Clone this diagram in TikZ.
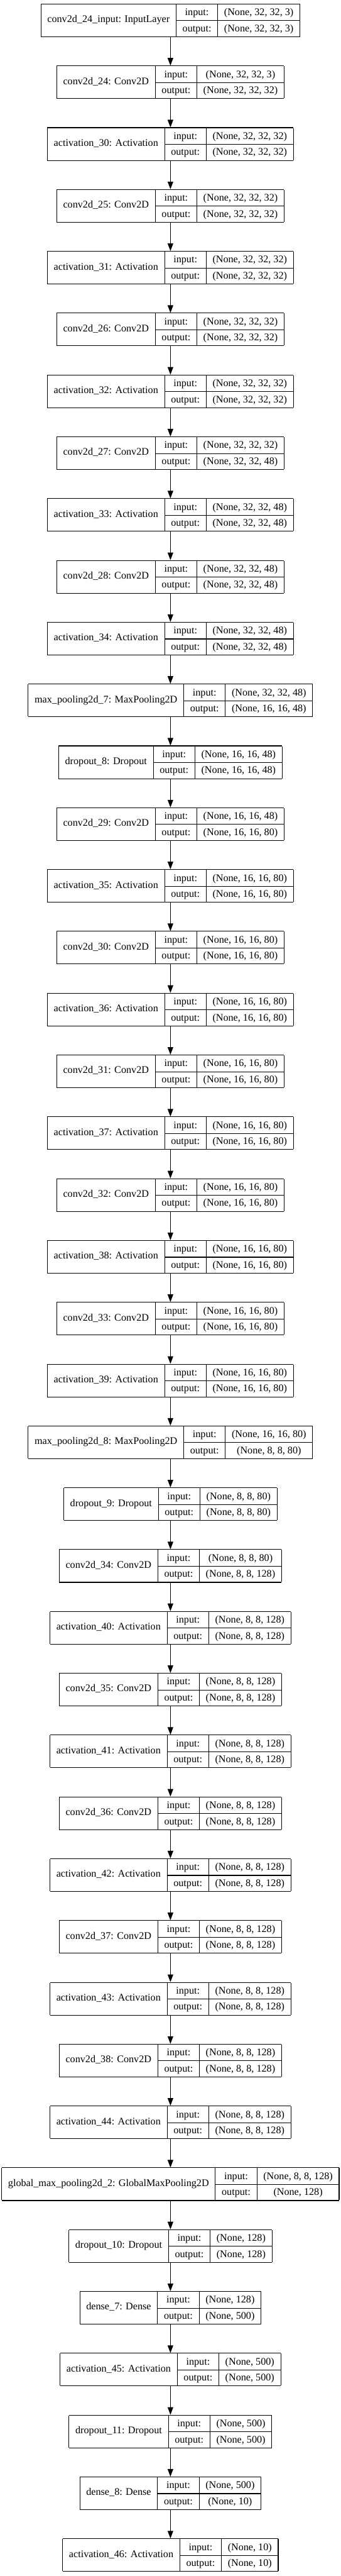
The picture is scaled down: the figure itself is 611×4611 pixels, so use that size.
\documentclass[tikz,border=0pt]{standalone}
\usepackage{fontspec}
\setmainfont{Liberation Serif}
\usepackage{multirow}
\usetikzlibrary{arrows.meta}

\setlength{\arrayrulewidth}{1.2pt}
\setlength{\tabcolsep}{11.5pt}
\newcommand{\layerbox}[3]{%
  \fontsize{18.2}{19}\selectfont
  \renewcommand{\arraystretch}{1.51}%
  \begin{tabular}{|c|c|c|}
    \hline
    \multirow{2}{*}{#1} & input: & #2 \\ \cline{2-3}
     & output: & #3 \\ \hline
  \end{tabular}}

\begin{document}
\begin{tikzpicture}[
    x=1pt, y=1pt,
    layernode/.style={inner sep=0pt, outer sep=0pt},
    flowarrow/.style={-{Triangle[length=13.5pt, width=10pt]}, line width=1.2pt}
    ]
    \useasboundingbox (0,0) rectangle (611,-4611);
    %Nodes
    \foreach \nm/\inp/\outp [count=\i] in {
        conv2d\_24\_input: InputLayer/{(None, 32, 32, 3)}/{(None, 32, 32, 3)},
        conv2d\_24: Conv2D/{(None, 32, 32, 3)}/{(None, 32, 32, 32)},
        activation\_30: Activation/{(None, 32, 32, 32)}/{(None, 32, 32, 32)},
        conv2d\_25: Conv2D/{(None, 32, 32, 32)}/{(None, 32, 32, 32)},
        activation\_31: Activation/{(None, 32, 32, 32)}/{(None, 32, 32, 32)},
        conv2d\_26: Conv2D/{(None, 32, 32, 32)}/{(None, 32, 32, 32)},
        activation\_32: Activation/{(None, 32, 32, 32)}/{(None, 32, 32, 32)},
        conv2d\_27: Conv2D/{(None, 32, 32, 32)}/{(None, 32, 32, 48)},
        activation\_33: Activation/{(None, 32, 32, 48)}/{(None, 32, 32, 48)},
        conv2d\_28: Conv2D/{(None, 32, 32, 48)}/{(None, 32, 32, 48)},
        activation\_34: Activation/{(None, 32, 32, 48)}/{(None, 32, 32, 48)},
        max\_pooling2d\_7: MaxPooling2D/{(None, 32, 32, 48)}/{(None, 16, 16, 48)},
        dropout\_8: Dropout/{(None, 16, 16, 48)}/{(None, 16, 16, 48)},
        conv2d\_29: Conv2D/{(None, 16, 16, 48)}/{(None, 16, 16, 80)},
        activation\_35: Activation/{(None, 16, 16, 80)}/{(None, 16, 16, 80)},
        conv2d\_30: Conv2D/{(None, 16, 16, 80)}/{(None, 16, 16, 80)},
        activation\_36: Activation/{(None, 16, 16, 80)}/{(None, 16, 16, 80)},
        conv2d\_31: Conv2D/{(None, 16, 16, 80)}/{(None, 16, 16, 80)},
        activation\_37: Activation/{(None, 16, 16, 80)}/{(None, 16, 16, 80)},
        conv2d\_32: Conv2D/{(None, 16, 16, 80)}/{(None, 16, 16, 80)},
        activation\_38: Activation/{(None, 16, 16, 80)}/{(None, 16, 16, 80)},
        conv2d\_33: Conv2D/{(None, 16, 16, 80)}/{(None, 16, 16, 80)},
        activation\_39: Activation/{(None, 16, 16, 80)}/{(None, 16, 16, 80)},
        max\_pooling2d\_8: MaxPooling2D/{(None, 16, 16, 80)}/{(None, 8, 8, 80)},
        dropout\_9: Dropout/{(None, 8, 8, 80)}/{(None, 8, 8, 80)},
        conv2d\_34: Conv2D/{(None, 8, 8, 80)}/{(None, 8, 8, 128)},
        activation\_40: Activation/{(None, 8, 8, 128)}/{(None, 8, 8, 128)},
        conv2d\_35: Conv2D/{(None, 8, 8, 128)}/{(None, 8, 8, 128)},
        activation\_41: Activation/{(None, 8, 8, 128)}/{(None, 8, 8, 128)},
        conv2d\_36: Conv2D/{(None, 8, 8, 128)}/{(None, 8, 8, 128)},
        activation\_42: Activation/{(None, 8, 8, 128)}/{(None, 8, 8, 128)},
        conv2d\_37: Conv2D/{(None, 8, 8, 128)}/{(None, 8, 8, 128)},
        activation\_43: Activation/{(None, 8, 8, 128)}/{(None, 8, 8, 128)},
        conv2d\_38: Conv2D/{(None, 8, 8, 128)}/{(None, 8, 8, 128)},
        activation\_44: Activation/{(None, 8, 8, 128)}/{(None, 8, 8, 128)},
        global\_max\_pooling2d\_2: GlobalMaxPooling2D/{(None, 8, 8, 128)}/{(None, 128)},
        dropout\_10: Dropout/{(None, 128)}/{(None, 128)},
        dense\_7: Dense/{(None, 128)}/{(None, 500)},
        activation\_45: Activation/{(None, 500)}/{(None, 500)},
        dropout\_11: Dropout/{(None, 500)}/{(None, 500)},
        dense\_8: Dense/{(None, 500)}/{(None, 10)},
        activation\_46: Activation/{(None, 10)}/{(None, 10)}}
      \node[layernode] (l\i) at (305.5, {-36.5-110.66*(\i-1)}) {\layerbox{\nm}{\inp}{\outp}};

    %Lines
    \foreach \i [evaluate=\i as \j using int(\i+1)] in {1,...,41}
      \draw[flowarrow] (l\i) -- (l\j);
\end{tikzpicture}
\end{document}
